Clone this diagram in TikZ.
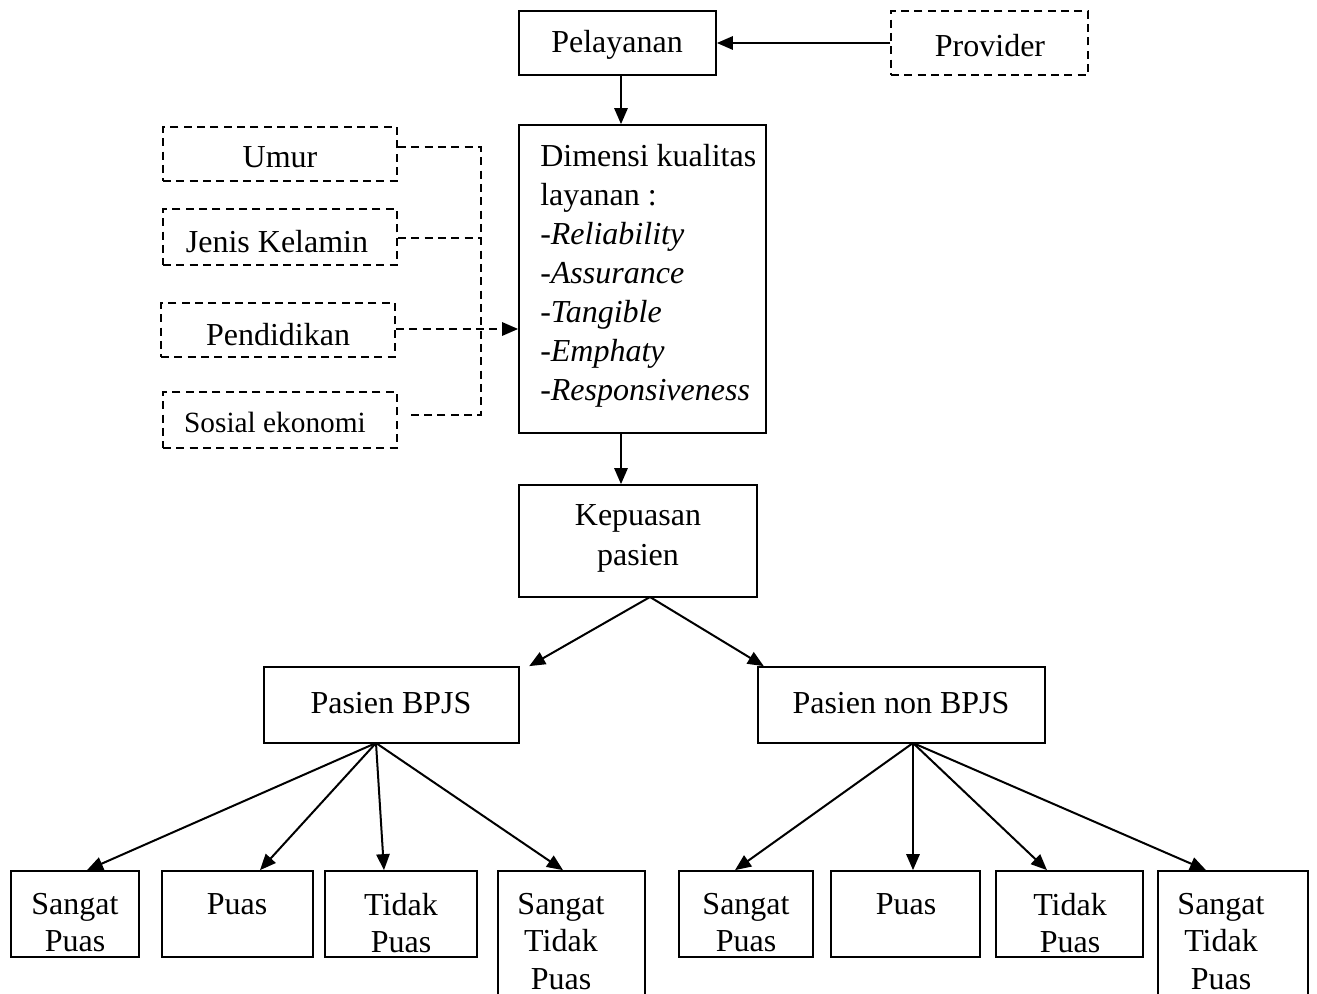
\documentclass[tikz,border=0pt]{standalone}
\usepackage{fontspec}
\setmainfont{Liberation Serif}
\usetikzlibrary{arrows.meta,fit}
\begin{document}
\begin{tikzpicture}[x=0.75pt,y=-0.75pt,
  box/.style={draw, line width=1.3pt, inner sep=0pt},
  dbox/.style={box, dash pattern=on 6pt off 4pt},
  txt/.style={font=\fontsize{24}{28}\selectfont, inner sep=0pt, align=center, yshift=-2.5pt},
  stxt/.style={font=\fontsize{22}{28}\selectfont, inner sep=0pt, align=center, yshift=-2pt},
  arr/.style={line width=1.5pt, -{Triangle[length=12pt,width=10pt]}},
  darr/.style={arr, dash pattern=on 6pt off 4pt},
  dline/.style={line width=1.3pt, dash pattern=on 6pt off 4pt}]
\useasboundingbox (0,0) rectangle (1317,994);
\clip (0,0) rectangle (1317,994);

% top
\node[box, fit={(519,11)(716,75)}] (pel) {};
\node[txt] (peltxt) at (617,42) {Pelayanan};
\node[dbox, fit={(891,11)(1088,75)}] (prov) {};
\node[txt] (provtxt) at (990,42) {Provider};
\draw[arr] (prov.west) -- (pel.east);

% dimensi
\node[box, fit={(519,125)(766,433)}] (dim) {};
\node[font=\fontsize{24}{29.25}\selectfont, inner sep=0pt, align=left, anchor=north west] (dimtxt) at (540,144)
 {Dimensi kualitas\\layanan :\\-\textit{Reliability}\\-\textit{Assurance}\\-\textit{Tangible}\\-\textit{Emphaty}\\-\textit{Responsiveness}};
\coordinate (ax) at (621,0);
\draw[arr] (pel.south -| ax) -- (dim.north -| ax);

% left factors
\node[dbox, fit={(163,127)(397,181)}] (umur) {};
\node[txt] (umurtxt) at (280,154) {Umur};
\node[dbox, fit={(163,209)(397,265)}] (jk) {};
\node[txt] (jktxt) at (277,238) {Jenis Kelamin};
\node[dbox, fit={(161,303)(395,357)}] (pend) {};
\node[txt] (pendtxt) at (278,331) {Pendidikan};
\node[dbox, fit={(163,392)(397,448)}] (sos) {};
\node[stxt] (sostxt) at (275,420) {Sosial ekonomi};

\coordinate (c1) at (481,147);
\coordinate (c2) at (481,238);
\coordinate (c4) at (481,415);
\draw[dline] (umur.east |- c1) -- (c1) -- (c4) -- ([xshift=7pt]sos.east |- c4);
\draw[dline] (jk.east |- c2) -- (c2);
\draw[darr] (pend.east |- 0,329) -- (dim.west |- 0,329);

% kepuasan
\node[box, fit={(519,485)(757,597)}] (kep) {};
\node[txt] (keptxt) at (638,535) {Kepuasan\\[2pt]pasien};
\draw[arr] (dim.south -| ax) -- (kep.north -| ax);

% pasien
\node[box, fit={(264,667)(519,743)}] (bpjs) {};
\node[txt] (bpjstxt) at (391,700) {Pasien BPJS};
\node[box, fit={(758,667)(1045,743)}] (nbpjs) {};
\node[txt] (nbpjstxt) at (901,700) {Pasien non BPJS};
\coordinate (kb) at (650,597);
\draw[arr] (kb) -- ([xshift=7pt]bpjs.north east);
\draw[arr] (kb) -- ([xshift=5pt]nbpjs.north west);

% bottom boxes
\node[box, fit={(11,871)(139,957)}] (sp1) {};
\node[txt] (sp1t) at (75,919.5) {Sangat\\Puas};
\node[box, fit={(162,871)(313,957)}] (p1) {};
\node[txt] (p1t) at (237,901) {Puas};
\node[box, fit={(325,871)(477,957)}] (tp1) {};
\node[txt] (tp1t) at (401,919.5) {Tidak\\Puas};
\node[box, fit={(498,871)(645,1010)}] (stp1) {};
\node[txt] (stp1t) at (561,938) {Sangat\\Tidak\\Puas};

\node[box, fit={(679,871)(813,957)}] (sp2) {};
\node[txt] (sp2t) at (746,919.5) {Sangat\\Puas};
\node[box, fit={(831,871)(980,957)}] (p2) {};
\node[txt] (p2t) at (906,901) {Puas};
\node[box, fit={(996,871)(1143,957)}] (tp2) {};
\node[txt] (tp2t) at (1070,919.5) {Tidak\\Puas};
\node[box, fit={(1158,871)(1308,1010)}] (stp2) {};
\node[txt] (stp2t) at (1221,938) {Sangat\\Tidak\\Puas};

% arrows from BPJS
\coordinate (b1) at (376,743);
\draw[arr] (b1) -- (sp1.north -| 87,0);
\draw[arr] (b1) -- (p1.north -| 260,0);
\draw[arr] (b1) -- (tp1.north -| 384,0);
\draw[arr] (b1) -- (stp1.north -| 563,0);

\coordinate (b2) at (913,743);
\draw[arr] (b2) -- (sp2.north -| 735,0);
\draw[arr] (b2) -- (p2.north -| 913,0);
\draw[arr] (b2) -- (tp2.north -| 1047,0);
\draw[arr] (b2) -- (stp2.north -| 1206,0);
\end{tikzpicture}
\end{document}
